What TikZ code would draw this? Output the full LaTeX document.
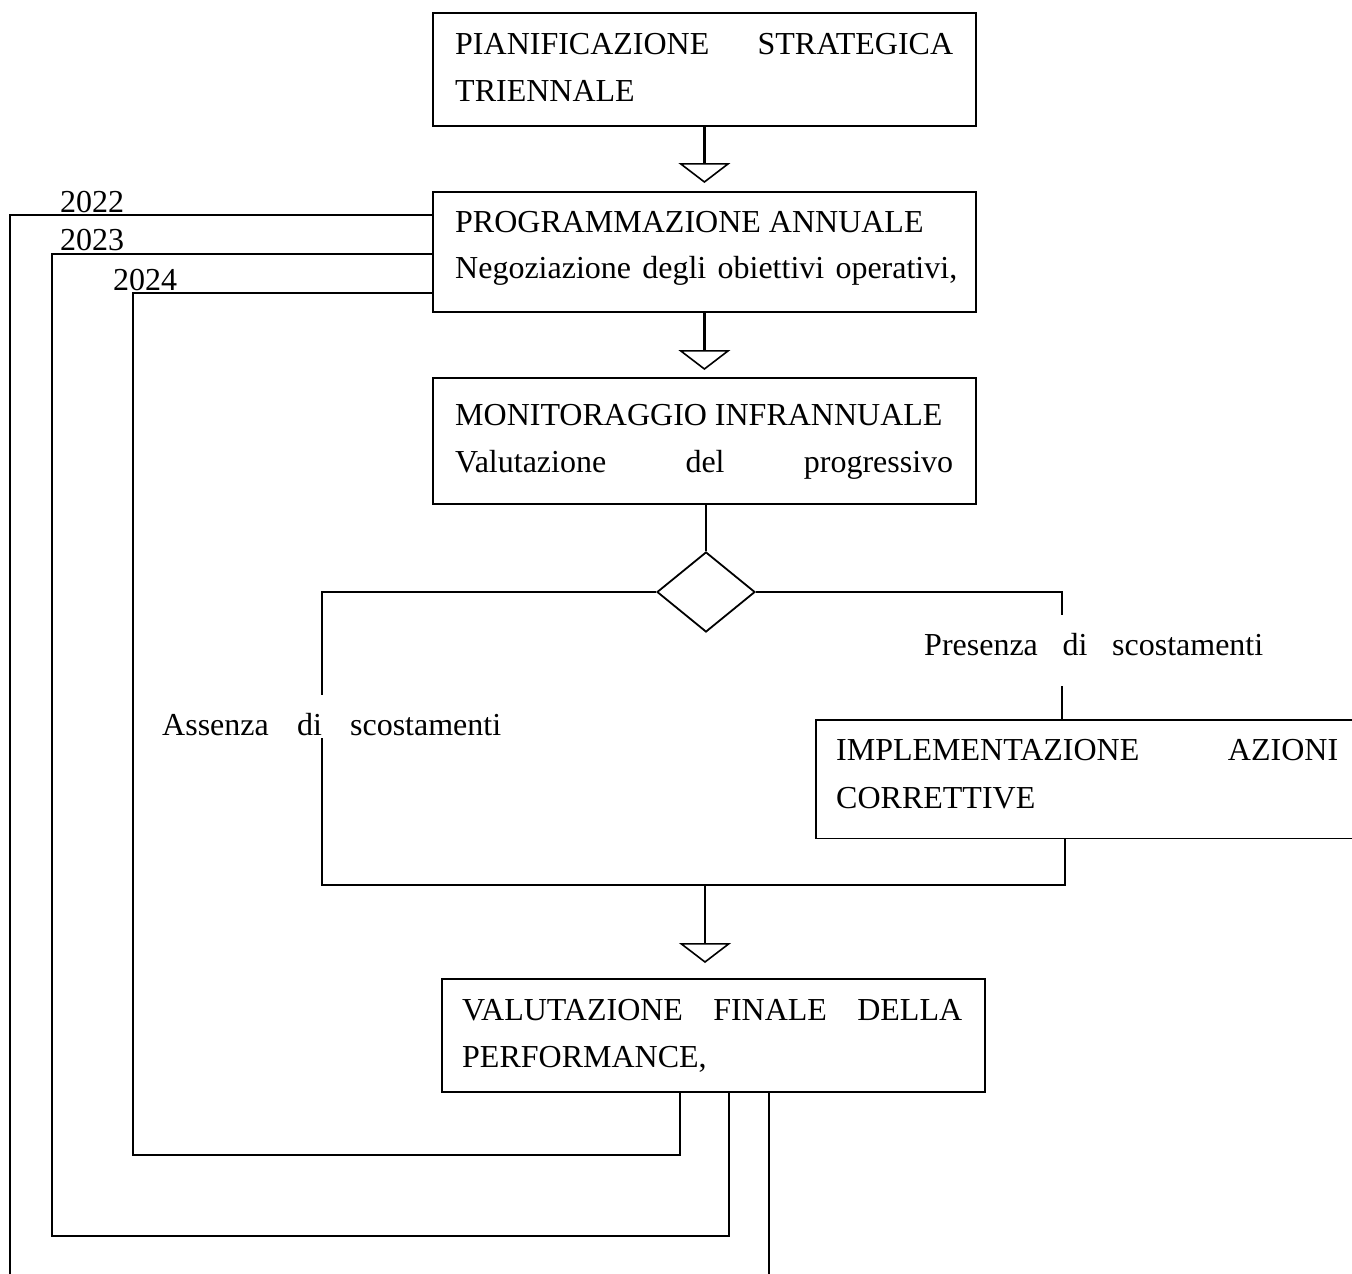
\documentclass[tikz,border=0pt]{standalone}
\usepackage{fontspec}
\setmainfont{Liberation Serif}
\usetikzlibrary{shapes.geometric,arrows.meta,calc}
\begin{document}
\begin{tikzpicture}[x=1pt,y=-1pt,
  box/.style={draw,line width=1.8pt,rectangle,inner sep=0pt,anchor=north west},
  lbl/.style={anchor=base west,inner sep=0pt,font=\fontsize{32}{38}\selectfont},
  wire/.style={line width=1.8pt},
  flow/.style={line width=2.8pt,-{Triangle[open,width=52pt,length=20pt,line width=1.6pt]}}
]
\useasboundingbox (0,0) rectangle (1352,1274);

% boxes
\node[box,minimum width=543pt,minimum height=113pt] (b1) at (432,12) {};
\node[box,minimum width=543pt,minimum height=120pt] (b2) at (432,191) {};
\node[box,minimum width=543pt,minimum height=126pt] (b3) at (432,377) {};
\node[anchor=north west,inner sep=0pt,minimum width=537pt,minimum height=118pt] (impl) at (816,720) {};
\draw[wire] (impl.north east) -- (impl.north west) -- (impl.south west) -- (impl.south east);
\node[box,minimum width=543pt,minimum height=113pt] (b5) at (441,978) {};
\node[draw,diamond,line width=1.8pt,minimum width=98pt,minimum height=80pt,inner sep=0pt] (dia) at (706,592) {};

% texts
\node[lbl] (t1a) at (455,54) {\hbox to 498pt{PIANIFICAZIONE\hfill STRATEGICA}};
\node[lbl] (t1b) at (455,101) {TRIENNALE};
\node[lbl] (t2a) at (455,232) {PROGRAMMAZIONE ANNUALE};
\node[lbl] (t2b) at (455,278) {\hbox to 502pt{Negoziazione\hfill degli\hfill obiettivi\hfill operativi,}};
\node[lbl] (t3a) at (455,425) {MONITORAGGIO INFRANNUALE};
\node[lbl] (t3b) at (455,472) {\hbox to 498pt{Valutazione\hfill del\hfill progressivo}};
\node[lbl] (tno) at (162,735) {\hbox to 339pt{Assenza\hfill di\hfill scostamenti}};
\node[lbl] (tyes) at (924,655) {\hbox to 339pt{Presenza\hfill di\hfill scostamenti}};
\node[lbl] (t4a) at (836,760) {\hbox to 502pt{IMPLEMENTAZIONE\hfill AZIONI}};
\node[lbl] (t4b) at (836,808) {CORRETTIVE};
\node[lbl] (t5a) at (462,1020) {\hbox to 500pt{VALUTAZIONE\hfill FINALE\hfill DELLA}};
\node[lbl] (t5b) at (462,1067) {PERFORMANCE,};
\node[lbl] (y22) at (60,212) {2022};
\node[lbl] (y23) at (60,250) {2023};
\node[lbl] (y24) at (113,290) {2024};

% coordinates
\coordinate (la) at (322,695);
\coordinate (lb) at (322,738);
\coordinate (ra) at (1062,615);
\coordinate (rb) at (1062,686);
\coordinate (rc) at (1065,838);
\coordinate (merge) at (705,885);
\coordinate (c22) at (10,1274);
\coordinate (c23) at (52,1236);
\coordinate (c24) at (133,1155);
\coordinate (out) at (769,1274);

% flow arrows
\draw[flow,shorten >=8pt] (b1.south) -- (b2.north);
\draw[flow,shorten >=7pt] (b2.south) -- (b3.north);
\draw[flow,shorten >=15pt] (merge) -- (merge |- b5.north);

% decision
\draw[wire] (dia.north |- b3.south) -- (dia.north);
\draw[wire] (dia.west) -| (la);
\draw[wire] (dia.east) -| (ra);
\draw[wire] (rb) -- (rb |- impl.north);
\draw[wire] (lb) |- (merge) -| (rc);

% feedback loops
\draw[wire] ($(b2.north west)+(0,24)$) -| (c22);
\draw[wire] ($(b2.north west)+(0,63)$) -| (c23) -| ($(b5.south west)+(288,0)$);
\draw[wire] ($(b2.north west)+(0,102)$) -| (c24) -| ($(b5.south west)+(239,0)$);
\draw[wire] ($(b5.south west)+(328,0)$) -- (out);
\end{tikzpicture}
\end{document}
